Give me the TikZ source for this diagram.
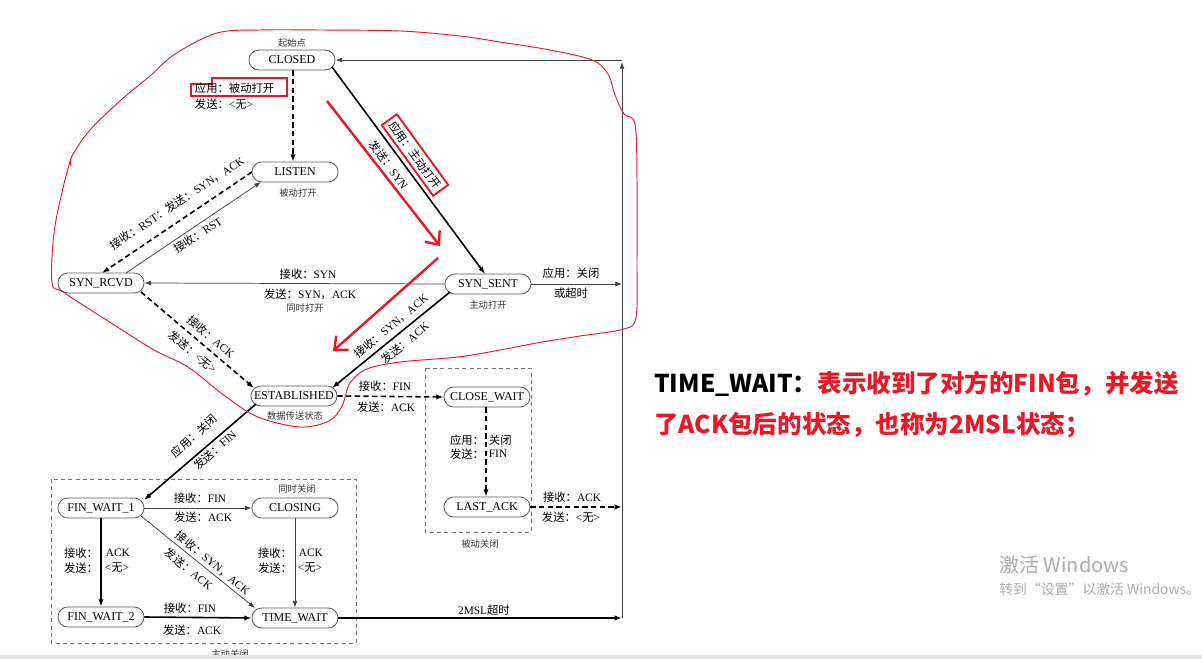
\documentclass[tikz,border=0pt]{standalone}
\usepackage{fontspec}
\setmainfont{Liberation Serif}
\newfontfamily\cjk{Noto Sans CJK SC}
\usetikzlibrary{arrows.meta,calc}
\definecolor{hlred}{RGB}{232,24,36}
\definecolor{wmgray}{RGB}{172,172,172}
\newcommand\zh[1]{{\cjk #1}}
\begin{document}
\begin{tikzpicture}[x=0.75pt,y=-0.75pt,
  state/.style={draw=black!65, line width=0.6pt, rounded corners=7.4pt, minimum width=64.5pt, minimum height=15pt, inner sep=0pt, font=\fontsize{9}{10}\selectfont},
  lbl/.style={inner sep=0.5pt, font=\fontsize{8.5}{10}\selectfont},
  note/.style={inner sep=0.5pt, font=\cjk\fontsize{7}{8}\selectfont, text=black!80},
  thinarr/.style={draw=black!75, line width=0.55pt, -{Latex[length=5pt,width=3.6pt]}},
  boldarr/.style={draw=black, line width=1.2pt, -{Latex[length=5.5pt,width=4pt]}},
  dboldarr/.style={boldarr, dash pattern=on 4pt off 2.5pt},
  grpbox/.style={draw=black!55, line width=0.6pt, dash pattern=on 3pt off 2.5pt},
  redbox/.style={draw=hlred, line width=1.4pt},
  redarrow/.style={draw=hlred, line width=1.8pt, -{Straight Barb[length=8pt,width=14pt]}},
]
\useasboundingbox (0,0) rectangle (1202,659);
\fill[white] (0,0) rectangle (1202,659);

% group boxes
\draw[grpbox] (425,368) rectangle (531,532);
\draw[grpbox] (51,479) rectangle (356,643);
\node[note] (lbpc) at (480,544) {被动关闭};
\node[note] (lbac) at (230,654) {主动关闭};

% states
\node[state] (closed) at (292,60) {CLOSED};
\node[state] (listen) at (295,172) {LISTEN};
\node[state] (synrcvd) at (101,283) {SYN\_RCVD};
\node[state] (synsent) at (488,284) {SYN\_SENT};
\node[state] (est) at (294,396) {ESTABLISHED};
\node[state] (closewait) at (487,397) {CLOSE\_WAIT};
\node[state] (lastack) at (487,507) {LAST\_ACK};
\node[state] (fw1) at (101,508) {FIN\_WAIT\_1};
\node[state] (closing) at (295,508) {CLOSING};
\node[state] (fw2) at (101,617) {FIN\_WAIT\_2};
\node[state] (timewait) at (295,618) {TIME\_WAIT};
\coordinate (rt) at (622,60);
\coordinate (rb) at (622,618);

% notes under/over states
\node[note] at (292,43) {起始点};
\node[note] at (298,193) {被动打开};
\node[note] at (488,305) {主动打开};
\node[note] at (305,308) {同时打开};
\node[note] at (295,416) {数据传送状态};
\node[note] at (297,489) {同时关闭};

% connectors
\draw[dboldarr] ($(closed.south)+(1,0)$) -- ($(listen.north)+(-2,0)$);
\draw[redbox] (191,84) -- (212,84) -- (212,78) -- (287,78) -- (287,96) -- (191,96) -- cycle;
\node[lbl, anchor=west] at (194,88) {\zh{应用：被动打开}};
\node[lbl, anchor=west] at (194,104) {\zh{发送：}<\zh{无}>};

\draw[boldarr] ($(closed)+(40,7)$) -- ($(synsent)+(-3,-10)$);
\node[lbl, rotate=-54, redbox, inner sep=3pt] at (415,155) {\zh{应用：主动打开}};
\node[lbl, rotate=-54] at (389,165) {\zh{发送：}SYN};

\draw[dboldarr] ($(listen)+(-43,0)$) -- ($(synrcvd)+(1,-10)$);
\node[lbl, rotate=33.5] at (177,203) {\zh{接收：}RST\zh{：发送：}SYN\zh{，}ACK};
\draw[thinarr] ($(synrcvd)+(25,-10)$) -- ($(listen)+(-34,10)$);
\node[lbl, rotate=33.5] at (198,235) {\zh{接收：}RST};

\draw[thinarr] (synsent.west) -- (synrcvd.east);
\node[lbl] at (308,274) {\zh{接收：}SYN};
\node[lbl] at (310,294) {\zh{发送：}SYN\zh{，}ACK};

\draw[thinarr] (synsent.east) -- (synsent.east -| rb);
\node[lbl] at (571,273) {\zh{应用：关闭}};
\node[lbl] at (571,293) {\zh{或超时}};

\draw[dboldarr] ($(synrcvd)+(40,9)$) -- ($(est)+(-40,-8)$);
\node[lbl, rotate=-40] at (211,337) {\zh{接收：}ACK};
\node[lbl, rotate=-40] at (193,352) {\zh{发送：}<\zh{无}>};

\draw[boldarr] ($(synsent)+(-38,8)$) -- ($(est)+(38,-8)$);
\node[lbl, rotate=40] at (391,326) {\zh{接收：}SYN\zh{，}ACK};
\node[lbl, rotate=40] at (405,343) {\zh{发送：}ACK};

\draw[dboldarr] (est.east) -- (closewait.west);
\node[lbl] at (385,386) {\zh{接收：}FIN};
\node[lbl] at (386,407) {\zh{发送：}ACK};

\draw[dboldarr] ($(closewait.south)+(-1,0)$) -- ($(lastack.north)+(-1,0)$);
\node[lbl, anchor=east] at (485,440) {\zh{应用：}};
\node[lbl, anchor=west] at (488,440) {\zh{关闭}};
\node[lbl, anchor=east] at (485,454) {\zh{发送：}};
\node[lbl, anchor=west] at (488,454) {FIN};

\draw[dboldarr] (lastack.east) -- (lastack.east -| rb);
\node[lbl] at (572,497) {\zh{接收：}ACK};
\node[lbl] at (571,517) {\zh{发送：}<\zh{无}>};

\draw[boldarr] ($(est)+(-38,8)$) -- ($(fw1)+(43,-8)$);
\node[lbl, rotate=42] at (194,436) {\zh{应用：关闭}};
\node[lbl, rotate=42] at (215,450) {\zh{发送：}FIN};

\draw[thinarr] (fw1.east) -- (closing.west);
\node[lbl] at (200,498) {\zh{接收：}FIN};
\node[lbl] at (203,517) {\zh{发送：}ACK};

\draw[boldarr] (fw1.south) -- (fw2.north);
\node[lbl, anchor=east] at (99,553) {\zh{接收：}};
\node[lbl, anchor=west] at (105,553) {ACK};
\node[lbl, anchor=east] at (99,568) {\zh{发送：}};
\node[lbl, anchor=west] at (104,568) {<\zh{无}>};

\draw[thinarr] ($(fw1)+(40,8)$) -- ($(timewait)+(-40,-10)$);
\node[lbl, rotate=-39.5] at (213,563) {\zh{接收：}SYN\zh{，}ACK};
\node[lbl, rotate=-39.5] at (189,569) {\zh{发送：}ACK};

\draw[thinarr] (closing.south) -- (timewait.north);
\node[lbl, anchor=east] at (293,553) {\zh{接收：}};
\node[lbl, anchor=west] at (298,553) {ACK};
\node[lbl, anchor=east] at (293,568) {\zh{发送：}};
\node[lbl, anchor=west] at (297,568) {<\zh{无}>};

\draw[boldarr] (fw2.east) -- (timewait.west);
\node[lbl] at (190,608) {\zh{接收：}FIN};
\node[lbl] at (192,630) {\zh{发送：}ACK};

\draw[boldarr] (timewait.east) -- (timewait.east -| rb);
\node[lbl] at (484,610) {2MSL\zh{超时}};

\draw[thinarr] (rb) -- ($(rt)+(0,2)$);
\draw[thinarr] (rt) -- (closed.east);

% red annotations
\coordinate (ra1) at (327,101);
\coordinate (ra2) at (440,246);
\coordinate (rb1) at (438,258);
\coordinate (rb2) at (333,351);
\draw[redarrow] (ra1) -- (ra2);
\draw[redarrow] (rb1) -- (rb2);
\draw[hlred, line width=0.7pt] plot[smooth, tension=0.55] coordinates {
 (71,166) (72,156) (90,130) (121,100) (150,76) (175,54) (217,33) (260,30) (320,30) (400,31) (460,36) (500,42) (550,50) (592,60) (608,74) (615,95) (624,114) (635,124) (637,180) (637,260) (636,317) (624,329) (580,336) (542,342) (500,350) (458,357) (400,362) (367,369) (350,383) (342,406) (329,421) (300,427) (258,417) (225,396) (188,367) (154,350) (108,321) (63,292) (52,283) (54,233) (63,188) (71,158) };

% explanation text
\node[anchor=west, inner sep=0pt, font=\cjk\bfseries\fontsize{18.4}{22}\selectfont] (expl1) at (654,384) {TIME\_WAIT：\textcolor{hlred}{表示收到了对方的FIN包，并发送}};
\node[anchor=west, inner sep=0pt, font=\cjk\bfseries\fontsize{18.4}{22}\selectfont, text=hlred] (expl2) at (654,425) {了ACK包后的状态，也称为2MSL状态；};

% watermark
\node[anchor=west, inner sep=0pt, text=wmgray, font=\cjk\fontsize{15}{17}\selectfont] (wm1) at (999,565) {激活 Windows};
\node[anchor=west, inner sep=0pt, text=wmgray, font=\cjk\fontsize{10.4}{12}\selectfont] (wm2) at (999,589) {转到“设置”以激活 Windows。};

% bottom band
\fill[black!10] (0,655) rectangle (1202,659);
\end{tikzpicture}
\end{document}
